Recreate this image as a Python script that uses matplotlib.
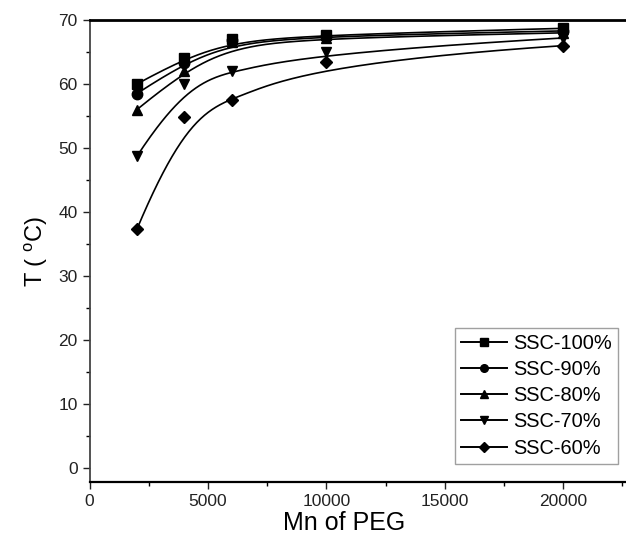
import numpy as np
import matplotlib.pyplot as plt

plt.rcParams['font.family'] = ['Liberation Sans', 'DejaVu Sans']

## Data
mn_peg = [2000, 4000, 6000, 10000, 20000]
ssc100 = [60.0, 64.0, 67.0, 67.7, 68.7]
ssc90 = [58.5, 63.3, 66.8, 67.5, 68.3]
ssc80 = [56.0, 62.0, 66.5, 67.2, 68.0]
ssc70 = [48.7, 60.0, 62.0, 65.0, 67.2]
ssc60 = [37.3, 54.9, 57.5, 63.5, 66.0]

labels = ["SSC-100%", "SSC-90%", "SSC-80%", "SSC-70%", "SSC-60%"]
markers = ["s", "o", "^", "v", "D"]
series = [ssc100, ssc90, ssc80, ssc70, ssc60]


def bspline(px, py, n=200, k=3):
    # clamped uniform B-spline with the data as control points (Origin style)
    px = np.asarray(px, float)
    py = np.asarray(py, float)
    m = len(px)
    inner = np.arange(1, m - k)
    knots = np.concatenate([np.zeros(k + 1), inner, np.full(k + 1, m - k)]).astype(float)
    t = np.linspace(0, m - k, n)
    t[-1] -= 1e-9
    # Cox-de Boor
    B = np.zeros((n, len(knots) - 1))
    for i in range(len(knots) - 1):
        B[:, i] = (knots[i] <= t) & (t < knots[i + 1])
    for d in range(1, k + 1):
        Bn = np.zeros((n, len(knots) - 1 - d))
        for i in range(len(knots) - 1 - d):
            a = np.zeros(n)
            b = np.zeros(n)
            if knots[i + d] != knots[i]:
                a = (t - knots[i]) / (knots[i + d] - knots[i]) * B[:, i]
            if knots[i + d + 1] != knots[i + 1]:
                b = (knots[i + d + 1] - t) / (knots[i + d + 1] - knots[i + 1]) * B[:, i + 1]
            Bn[:, i] = a + b
        B = Bn
    return B @ px, B @ py


fig = plt.figure(figsize=(6.26, 5.41), dpi=100)
ax = fig.add_axes([0.143, 0.109, 0.857, 0.854])

for ys, lab, mk in zip(series, labels, markers):
    sx, sy = bspline(mn_peg, ys)
    ax.plot(sx, sy, color='black', lw=1.2)
    ms = 7.5 if mk != "D" else 6.5
    ax.plot(mn_peg, ys, linestyle='none', marker=mk, color='black', ms=ms)
    ax.plot([], [], color='black', lw=1.4, marker=mk, ms=5.5 if mk != "D" else 5, label=lab)

ax.set_xlim(0, 22650)
ax.set_ylim(-2.2, 70)
ax.set_xticks([0, 5000, 10000, 15000, 20000])
ax.set_xticks(np.arange(2500, 22650, 5000), minor=True)
ax.set_yticks(np.arange(0, 71, 10))
ax.set_yticks(np.arange(5, 70, 10), minor=True)
ax.tick_params(direction='out', labelsize=12.5, length=5, width=1, colors='#222222')
ax.tick_params(which='minor', direction='out', length=3, width=1)
ax.spines['right'].set_visible(False)
ax.spines['top'].set_linewidth(2)
ax.spines['bottom'].set_linewidth(1.6)
ax.spines['left'].set_linewidth(1.3)
ax.spines['left'].set_color('#444444')

ax.set_xlabel('Mn of PEG', fontsize=18)
ax.xaxis.set_label_coords(0.475, -0.062)
ax.set_ylabel(r'T ( $\mathregular{^{o}}$C)', fontsize=17)
ax.yaxis.set_label_coords(-0.074, 0.5)

leg = ax.legend(loc='lower right', bbox_to_anchor=(0.985, 0.04), fontsize=14.4,
                handlelength=2.3, handletextpad=0.3, labelspacing=0.36,
                fancybox=False, borderpad=0.3, borderaxespad=0, frameon=True)
leg.get_frame().set_edgecolor('#888888')
leg.get_frame().set_linewidth(1.0)

fig.savefig('out.png', dpi=100)
